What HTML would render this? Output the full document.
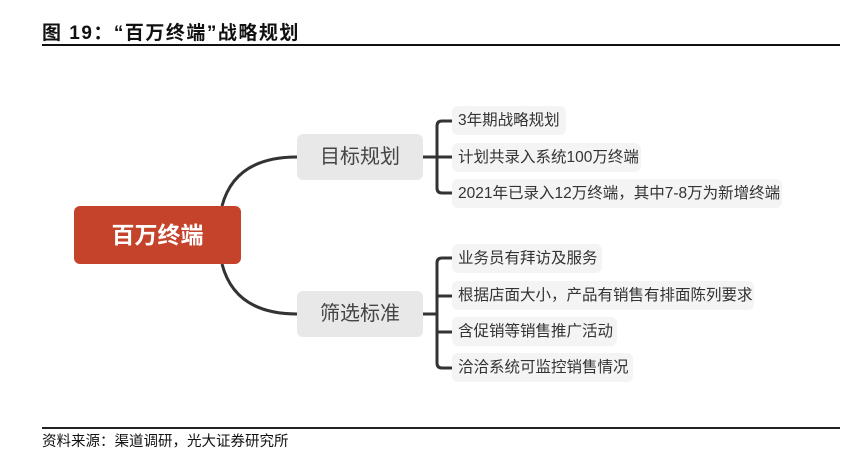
<!DOCTYPE html>
<html><head><meta charset="utf-8"><style>
body{margin:0;width:851px;height:458px;background:#fff;position:relative;overflow:hidden;font-family:"Liberation Sans","Noto Sans CJK SC",sans-serif}
.a{position:absolute;white-space:nowrap}
.leaf{position:absolute;left:452px;height:29px;background:#f4f4f4;border-radius:6px;font-size:15.5px;color:#333;line-height:29px;padding-left:6px;box-sizing:border-box}
.br{position:absolute;left:297px;width:126px;height:46px;background:#e8e8e8;border-radius:6px;font-size:20px;color:#444;text-align:center;line-height:46px}
</style></head><body>
<div class="a" style="left:42px;top:18px;font-size:19px;font-weight:bold;color:#111;letter-spacing:1.5px">图 19：“百万终端”战略规划</div>
<div class="a" style="left:42px;top:44px;width:798px;height:2px;background:#111"></div>
<svg class="a" style="left:0;top:0" width="851" height="458">
<g fill="none" stroke="#333" stroke-width="3">
<path d="M222 206 Q235 157 297 157"/>
<path d="M222 264 Q235 314 297 314"/>
<path d="M423 157 H437"/><path d="M423 314 H437"/>
<path d="M452 121 H442 Q437 121 437 126 V188 Q437 193 442 193 H452"/>
<path d="M437 157 H452"/>
<path d="M452 258 H442 Q437 258 437 263 V363 Q437 368 442 368 H452"/>
<path d="M437 296 H452"/><path d="M437 332 H452"/>
</g></svg>
<div class="a" style="left:74px;top:206px;width:167px;height:58px;background:#c4432a;border-radius:6px;color:#fff;font-size:23px;font-weight:bold;text-align:center;line-height:58px">百万终端</div>
<div class="br" style="top:134px">目标规划</div>
<div class="br" style="top:291px">筛选标准</div>
<div class="leaf" style="top:106px;width:114px">3年期战略规划</div>
<div class="leaf" style="top:143px;width:189px">计划共录入系统100万终端</div>
<div class="leaf" style="top:179px;width:330px">2021年已录入12万终端，其中7-8万为新增终端</div>
<div class="leaf" style="top:244px;width:150px">业务员有拜访及服务</div>
<div class="leaf" style="top:281px;width:302px">根据店面大小，产品有销售有排面陈列要求</div>
<div class="leaf" style="top:317px;width:165px">含促销等销售推广活动</div>
<div class="leaf" style="top:353px;width:181px">洽洽系统可监控销售情况</div>
<div class="a" style="left:42px;top:427px;width:798px;height:2px;background:#222"></div>
<div class="a" style="left:42px;top:430px;font-size:14.5px;color:#111">资料来源：渠道调研，光大证券研究所</div>
</body></html>
